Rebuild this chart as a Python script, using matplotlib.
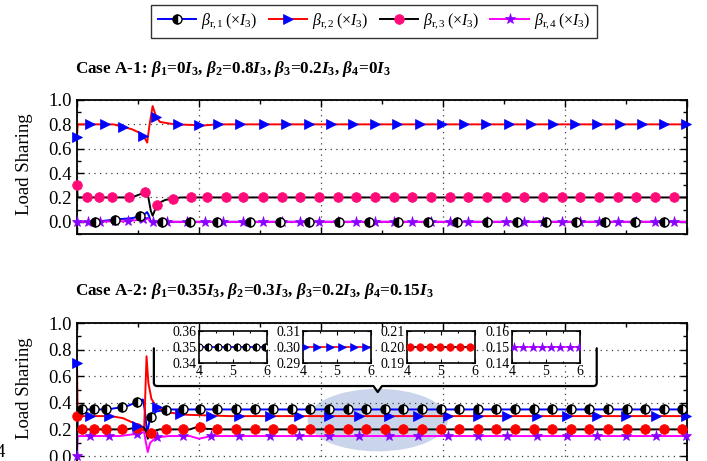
import numpy as np
import matplotlib
matplotlib.use("Agg")
import matplotlib.pyplot as plt
from matplotlib.lines import Line2D
from matplotlib.patches import Ellipse
from matplotlib.path import Path
from matplotlib.patches import PathPatch
from matplotlib.ticker import MultipleLocator

plt.rcParams["font.family"] = ["Liberation Serif", "DejaVu Serif"]
plt.rcParams["mathtext.fontset"] = "custom"
plt.rcParams["mathtext.rm"] = "Liberation Serif"
plt.rcParams["mathtext.it"] = "Liberation Serif:italic"
plt.rcParams["mathtext.bf"] = "Liberation Serif:bold"
plt.rcParams["mathtext.bfit"] = "Liberation Serif:italic:bold"

# ---------------- Case A-1 load-sharing traces ----------------
t_a1_r1 = [0, 0.3, 0.65, 0.9, 1.03, 1.1, 1.15, 1.18, 1.21, 10]
y_a1_r1 = [0, 0.0, 0.02, 0.03, 0.045, 0.06, 0.08, 0.05, 0.0, 0.0]

t_a1_r2 = [0, 0.01, 0.6, 0.75, 0.9, 1.03, 1.12, 1.15, 1.19, 1.24, 1.3, 1.36, 1.6, 1.9, 2.05, 2.3, 10]
y_a1_r2 = [0.7, 0.8, 0.8, 0.78, 0.76, 0.73, 0.68, 0.65, 0.8, 0.95, 0.86, 0.82, 0.80, 0.795, 0.79, 0.80, 0.80]

t_a1_r3 = [0, 0.01, 0.8, 0.95, 1.08, 1.13, 1.17, 1.21, 1.24, 1.32, 1.45, 1.7, 10]
y_a1_r3 = [0.3, 0.2, 0.2, 0.21, 0.235, 0.245, 0.2, 0.09, 0.05, 0.15, 0.18, 0.2, 0.2]

t_a1_r4 = [0, 0.8, 1.0, 1.1, 1.15, 1.18, 1.2, 10]
y_a1_r4 = [0, 0.005, 0.015, 0.025, 0.03, 0.02, 0.0, 0.0]

# ---------------- Case A-2 load-sharing traces ----------------
t_a2_r1 = [0, 0.01, 0.5, 0.7, 0.85, 1.0, 1.08, 1.11, 1.15, 1.2, 1.3, 1.5, 10]
y_a2_r1 = [0, 0.35, 0.35, 0.365, 0.38, 0.41, 0.425, 0.35, 0.17, 0.29, 0.335, 0.35, 0.35]

t_a2_r2 = [0, 0.01, 0.55, 0.75, 0.92, 1.03, 1.1, 1.14, 1.17, 1.22, 1.3, 1.45, 1.8, 2.5, 10]
y_a2_r2 = [0.7, 0.3, 0.3, 0.285, 0.25, 0.21, 0.19, 0.75, 0.55, 0.43, 0.37, 0.33, 0.31, 0.30, 0.30]

t_a2_r3 = [0, 0.01, 0.8, 1.0, 1.08, 1.12, 1.16, 1.22, 1.35, 1.85, 1.98, 2.1, 2.3, 10]
y_a2_r3 = [0.3, 0.2, 0.2, 0.215, 0.22, 0.2, 0.13, 0.18, 0.2, 0.2, 0.22, 0.205, 0.2, 0.2]

t_a2_r4 = [0, 0.01, 0.7, 0.95, 1.1, 1.13, 1.16, 1.2, 1.3, 1.5, 1.85, 2.0, 2.2, 10]
y_a2_r4 = [0, 0.15, 0.15, 0.165, 0.18, 0.1, 0.03, 0.1, 0.14, 0.15, 0.15, 0.13, 0.15, 0.15]

legend_labels = [r"$\beta_{\mathrm{r},\!1}\;(\times I_3)$", r"$\beta_{\mathrm{r},\!2}\;(\times I_3)$",
                 r"$\beta_{\mathrm{r},\!3}\;(\times I_3)$", r"$\beta_{\mathrm{r},\!4}\;(\times I_3)$"]
inset_ylims = [(0.34, 0.36), (0.29, 0.31), (0.19, 0.21), (0.14, 0.16)]
inset_yticks = [[0.34, 0.35, 0.36], [0.29, 0.30, 0.31], [0.19, 0.20, 0.21], [0.14, 0.15, 0.16]]

# marker sample times along each trace
mk_a1 = [
    np.r_[[0.3, 0.62, 1.03, 1.4, 1.85, 2.3], np.arange(2.84, 10, 0.485)],
    np.r_[[0, 0.21, 0.46, 0.75, 1.08, 1.3, 1.66, 2.0, 2.31, 2.67], np.arange(3.07, 10.01, 0.364)],
    np.r_[[0, 0.16, 0.36, 0.57, 0.85, 1.11, 1.31, 1.57, 1.87, 2.13, 2.44, 2.72], np.arange(3.05, 9.8, 0.306)],
    np.r_[[0, 0.18, 0.38, 0.62, 0.84, 1.08, 1.25, 1.48, 1.8, 2.1, 2.4, 2.72], np.arange(3.05, 9.8, 0.306)],
]
mk_a2 = [
    np.r_[[0.08, 0.28, 0.48, 0.74, 0.98, 1.21, 1.46, 1.74, 2.02, 2.3, 2.6], np.arange(2.91, 10.0, 0.305)],
    np.r_[[0, 0.21, 0.52, 0.98, 1.31, 1.69, 2.2, 2.66], np.arange(3.16, 10.05, 0.487)],
    np.r_[[0, 0.08, 0.28, 0.48, 0.74, 0.98, 1.21, 1.46, 1.74, 2.02, 2.3, 2.6], np.arange(2.91, 10.0, 0.305)],
    np.r_[[0, 0.21, 0.52, 0.98, 1.31, 1.74, 2.2, 2.66], np.arange(3.16, 10.05, 0.487)],
]
mk_inset = [np.linspace(4.0, 5.95, 8), np.linspace(4.07, 5.85, 6),
            np.linspace(4.08, 5.86, 7), np.linspace(4.06, 5.97, 8)]

BLUE, RED, MAG = "#0000FF", "#FF0000", "#FF00FF"
PINK, PURPLE = "#FF0A78", "#8A00FF"

line_colors = [BLUE, RED, "black", MAG]
LW = 1.4


def marker_style(i, circle_color):
    if i == 0:
        return dict(marker="o", ms=6.5, mfc="black", mfcalt="white", fillstyle="left",
                    mec="black", mew=1.0)
    if i == 1:
        return dict(marker=">", ms=7.5, mfc=BLUE, mec=BLUE, mew=0.5)
    if i == 2:
        return dict(marker="o", ms=7, mfc=circle_color, mec=circle_color, mew=0.5)
    return dict(marker="*", ms=8, mfc=PURPLE, mec=PURPLE, mew=0.5)


def style_axis(ax):
    ax.set_xlim(0, 10)
    ax.set_ylim(-0.1, 1.0)
    ax.xaxis.set_major_locator(MultipleLocator(2))
    ax.xaxis.set_minor_locator(MultipleLocator(1))
    ax.yaxis.set_minor_locator(MultipleLocator(0.1))
    ax.set_yticks([0, 0.2, 0.4, 0.6, 0.8, 1.0])
    ax.tick_params(which="both", direction="in", top=True, right=True,
                   labelbottom=False, width=1.0)
    ax.tick_params(which="major", length=5, labelsize=13.5, pad=4)
    ax.tick_params(which="minor", length=3)
    ax.grid(True, which="major", color="0.25", linestyle=(0, (1, 3.5)), linewidth=0.9)
    ax.set_axisbelow(True)
    for s in ax.spines.values():
        s.set_linewidth(1.3)
    ax.set_ylabel("Load Sharing", fontsize=13.5)


def draw_traces(ax, traces, marks, circle_color):
    for i, (t, y) in enumerate(traces):
        ax.plot(t, y, color=line_colors[i], lw=LW, zorder=2 + 0.1 * i)
    for i in [2, 3, 1, 0]:
        t, y = traces[i]
        tm = marks[i]
        ax.plot(tm, np.interp(tm, t, y), ls="none", zorder=3 + 0.1 * (4 - i),
                clip_on=False, **marker_style(i, circle_color))


fig = plt.figure(figsize=(7.07, 4.61), dpi=100)
W, H = 707.0, 461.0

ax1 = fig.add_axes([77 / W, (H - 234) / H, 610 / W, 134 / H])
ax2 = fig.add_axes([77 / W, (H - 469.3) / H, 610 / W, 146.3 / H])

traces_a1 = [(t_a1_r1, y_a1_r1), (t_a1_r2, y_a1_r2), (t_a1_r3, y_a1_r3), (t_a1_r4, y_a1_r4)]
traces_a2 = [(t_a2_r1, y_a2_r1), (t_a2_r2, y_a2_r2), (t_a2_r3, y_a2_r3), (t_a2_r4, y_a2_r4)]

style_axis(ax1)
style_axis(ax2)
draw_traces(ax1, traces_a1, mk_a1, PINK)
draw_traces(ax2, traces_a2, mk_a2, RED)
ax1.yaxis.set_label_coords(-0.072, 0.52)
ax2.yaxis.set_label_coords(-0.072, 0.556)

# highlighted steady-state window
ax2.add_patch(Ellipse((4.93, 0.27), 2.3, 0.47, facecolor="#CAD5EC", edgecolor="none", zorder=0.4))

# brace pointing at the highlighted window
yb, ytop, r = 0.526, 0.81, 0.025
verts = [(1.26, ytop), (1.26, yb + r), (1.26, yb), (1.26 + 0.06, yb),
         (4.86, yb), (4.93, yb - 0.045), (5.0, yb),
         (8.52 - 0.06, yb), (8.52, yb), (8.52, yb + r), (8.52, ytop)]
codes = [Path.MOVETO, Path.LINETO, Path.CURVE3, Path.CURVE3,
         Path.LINETO, Path.LINETO, Path.LINETO,
         Path.LINETO, Path.CURVE3, Path.CURVE3, Path.LINETO]
ax2.add_patch(PathPatch(Path(verts, codes), facecolor="none", edgecolor="black",
                        lw=1.6, zorder=2.5, capstyle="round", joinstyle="round"))

# zoomed steady-state insets
inset_left = [199, 303, 407, 512]
inset_markers = [
    dict(marker="o", ms=5, mfc="black", mfcalt="white", fillstyle="left", mec="black", mew=0.8),
    dict(marker=">", ms=6, mfc=BLUE, mec=BLUE, mew=0.4),
    dict(marker="o", ms=5.5, mfc=RED, mec=RED, mew=0.4),
    dict(marker="*", ms=6.5, mfc=PURPLE, mec=PURPLE, mew=0.4),
]
for k in range(4):
    axi = fig.add_axes([inset_left[k] / W, (H - 363) / H, 68 / W, 32 / H])
    t, y = traces_a2[k]
    axi.plot(t, y, color=line_colors[k], lw=1.2, zorder=2)
    tm = mk_inset[k]
    axi.plot(tm, np.interp(tm, t, y), ls="none", zorder=3, **inset_markers[k])
    axi.set_xlim(4, 6)
    axi.set_ylim(*inset_ylims[k])
    axi.set_xticks([4, 5, 6])
    axi.set_xticklabels(["4", "5", "6"])
    axi.set_yticks(inset_yticks[k])
    axi.set_yticklabels([f"{v:.2f}" for v in inset_yticks[k]])
    axi.xaxis.set_minor_locator(MultipleLocator(0.5))
    axi.tick_params(which="both", direction="in", top=True, right=True, labelsize=10,
                    pad=1.5, length=3, width=0.8)
    axi.tick_params(which="minor", length=1.5)
    for s in axi.spines.values():
        s.set_linewidth(1.2)
    axi.set_facecolor("white")

# panel headings


def beta(i):
    return rf"$\mathbfit{{\beta}}_{{\mathbf{{{i}}}}}$"


I3 = r"$\mathbfit{I}_{\mathbf{3}}$"


def heading(case, vals):
    parts = [f"Case {case}: "]
    for i, v in enumerate(vals, start=1):
        parts.append(beta(i) + f"={v}" + I3)
        if i < len(vals):
            parts.append(", ")
    return "".join(parts)


fig.text(75 / W, (H - 73) / H, heading("A-1", ["0", "0.8", "0.2", "0"]),
         fontsize=12.3, fontweight="bold", ha="left", va="baseline")
fig.text(75 / W, (H - 295) / H, heading("A-2", ["0.35", "0.3", "0.2", "0.15"]),
         fontsize=12.3, fontweight="bold", ha="left", va="baseline")

fig.text(5 / W, 4 / H, "4", fontsize=13.5, ha="right", va="baseline")

# shared legend
handles = []
for i in range(4):
    st = marker_style(i, PINK)
    handles.append(Line2D([], [], color=line_colors[i], lw=LW, **st))
leg = fig.legend(handles, legend_labels, loc="upper center", ncol=4,
                 bbox_to_anchor=(374 / W, (H - 5) / H), frameon=True, fancybox=False,
                 edgecolor="black", fontsize=11.5, handlelength=2.4, columnspacing=0.7,
                 handletextpad=0.3, borderpad=0.4, borderaxespad=0.0)
leg.get_frame().set_linewidth(1.0)

fig.savefig("out.png", dpi=100)
